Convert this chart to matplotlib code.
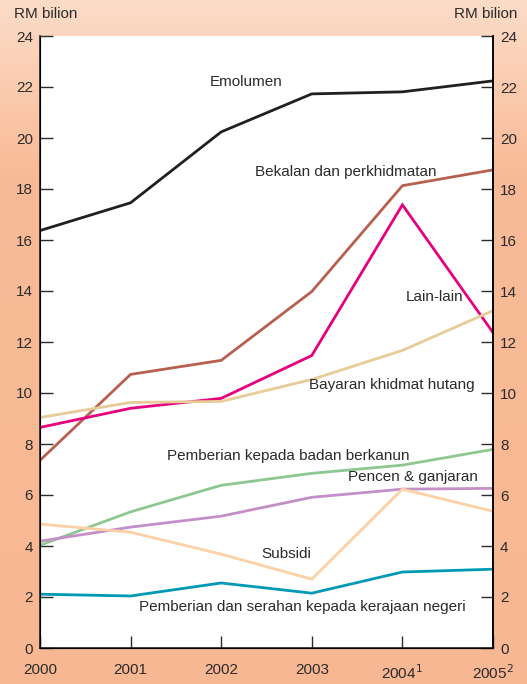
import numpy as np
import matplotlib
matplotlib.use("Agg")
import matplotlib.pyplot as plt
from matplotlib.colors import LinearSegmentedColormap

plt.rcParams['font.family'] = ['Liberation Sans', 'DejaVu Sans']

years = [2000, 2001, 2002, 2003, 2004, 2005]
xlabels = ['2000', '2001', '2002', '2003', '2004$^{1}$', '2005$^{2}$']

emolumen = [16.37, 17.46, 20.24, 21.73, 21.81, 22.24]
bekalan = [7.36, 10.73, 11.28, 13.98, 18.13, 18.75]
lain_lain = [8.65, 9.40, 9.79, 11.47, 17.38, 12.37]
bayaran_hutang = [9.04, 9.63, 9.67, 10.53, 11.67, 13.23]
badan_berkanun = [4.03, 5.34, 6.38, 6.85, 7.17, 7.79]
pencen = [4.19, 4.74, 5.17, 5.91, 6.23, 6.26]
subsidi = [4.86, 4.54, 3.68, 2.70, 6.23, 5.36]
kerajaan_negeri = [2.11, 2.04, 2.55, 2.15, 2.98, 3.09]

series = [
    (emolumen, '#231f20', 'Emolumen', 2002.27, 22.2),
    (bekalan, '#b8604f', 'Bekalan dan perkhidmatan', 2003.37, 18.68),
    (lain_lain, '#e6007e', 'Lain-lain', 2004.35, 13.78),
    (bayaran_hutang, '#e8cc98', 'Bayaran khidmat hutang', 2003.88, 10.3),
    (badan_berkanun, '#8dc891', 'Pemberian kepada badan berkanun', 2002.74, 7.52),
    (pencen, '#c48fc8', 'Pencen & ganjaran', 2004.12, 6.70),
    (subsidi, '#fdd0a5', 'Subsidi', 2002.72, 3.68),
    (kerajaan_negeri, '#0099b5', 'Pemberian dan serahan kepada kerajaan negeri', 2002.9, 1.61),
]

txt = '#2b2b2b'
fig = plt.figure(figsize=(5.27, 6.84), dpi=100)

# peach background, lighter at the top
bg = fig.add_axes([0, 0, 1, 1], zorder=-10)
cmap = LinearSegmentedColormap.from_list('bg', [(0, '#f8b793'), (0.75, '#f9bb97'), (1, '#fcdcc8')])
grad = np.linspace(0, 1, 256).reshape(-1, 1)
bg.imshow(grad, aspect='auto', cmap=cmap, origin='lower', extent=[0, 1, 0, 1])
bg.axis('off')

ax = fig.add_axes([40 / 527, 36 / 684, 453 / 527, 612 / 684])
ax.set_facecolor('white')
for data, color, name, tx, ty in series:
    ax.plot(years, data, color=color, lw=2, solid_joinstyle='miter')
    ax.text(tx, ty, name, ha='center', va='center', fontsize=11, color=txt)

ax.set_xlim(2000, 2005)
ax.set_ylim(0, 24)
ax.set_yticks(range(0, 25, 2))
ax.set_xticks(years)
ax.set_xticklabels(xlabels)
ax.spines['top'].set_visible(False)
for s in ['left', 'bottom', 'right']:
    ax.spines[s].set_linewidth(1.2)
    ax.spines[s].set_color('#231f20')
ax.tick_params(axis='y', direction='in', length=9, width=1, labelsize=11, colors=txt, pad=5)
ax.tick_params(axis='x', direction='in', length=9, width=1, labelsize=11, colors=txt, pad=11)

ax2 = ax.twinx()
ax2.set_ylim(0, 24)
ax2.set_yticks(range(0, 25, 2))
ax2.spines['top'].set_visible(False)
ax2.spines['right'].set_linewidth(1.2)
ax2.tick_params(axis='y', direction='in', length=9, width=1, labelsize=11, colors=txt, pad=5)

fig.text(14 / 527, 1 - 14 / 684, 'RM bilion', ha='left', va='center', fontsize=11, color=txt)
fig.text(517 / 527, 1 - 14 / 684, 'RM bilion', ha='right', va='center', fontsize=11, color=txt)

fig.savefig('out.png', dpi=100)
